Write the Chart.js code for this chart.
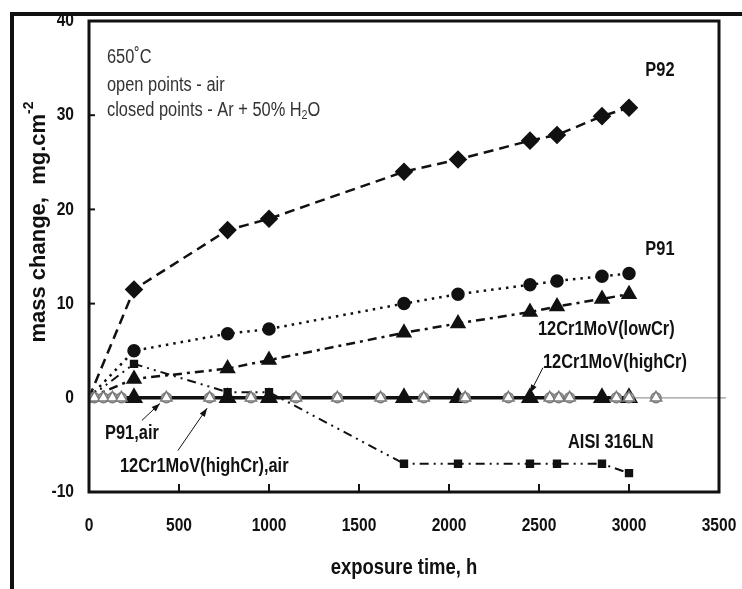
<!DOCTYPE html>
<html>
<head>
<meta charset="utf-8">
<script src="https://cdn.jsdelivr.net/npm/chart.js@4.4.1/dist/chart.umd.min.js"></script>
<style>
html, body { margin: 0; padding: 0; background: #fff; }
#wrap { width: 742px; height: 589px; }
</style>
</head>
<body>
<div id="wrap"><canvas id="chart"></canvas></div>
<script>
// exposure times (h) for the Ar + 50% H2O runs
const hoursSteam = [0, 250, 770, 1000, 1750, 2050, 2450, 2600, 2850, 3000];
const p92 = [0, 11.5, 17.8, 19.0, 24.0, 25.3, 27.3, 27.9, 29.9, 30.8];
const p91 = [0, 5.0, 6.8, 7.3, 10.0, 11.0, 12.0, 12.4, 12.9, 13.2];
const lowCr = [0, 2.0, 3.1, 4.0, 6.9, 7.9, 9.1, 9.7, 10.5, 11.0];
const aisi316 = [0, 3.6, 0.6, 0.6, -7.0, -7.0, -7.0, -7.0, -7.0, -8.0];

const hoursHighCr = [0, 250, 770, 1000, 1750, 2050, 2450, 2850, 3000];
const highCr = [0, 0, 0, 0, 0, 0, 0, 0, 0];

// air runs (open points)
const hoursAir = [0, 30, 80, 130, 180, 430, 670, 900, 1150, 1380, 1620, 1860, 2090, 2330, 2560, 2610, 2670, 2930, 3000, 3150];
const p91Air = [0, 0, 0, 0, 0, 0, 0, 0, 0, 0, 0, 0, 0, 0, 0, 0, 0, 0, 0, 0];
const highCrAir = [0, 0, 0, 0, 0, 0, 0, 0, 0, 0, 0, 0, 0, 0, 0, 0, 0, 0, 0, 0];

const xTicks = [0, 500, 1000, 1500, 2000, 2500, 3000, 3500];
const yTicks = [-10, 0, 10, 20, 30, 40];

const SANS = '"Liberation Sans", Arial, sans-serif';
const NARROW_X = 0.82; // squeeze to look like Arial Narrow

function pts(xs, ys) {
    return xs.map((x, i) => ({ x: x, y: ys[i] }));
}
// no marker on the origin point the lines start from
function radii(n, r) {
    const out = [];
    for (let i = 0; i < n; i++) out.push(i === 0 ? 0 : r);
    return out;
}

// text labels, anchored in data units
const notes = [
    { text: 'P92', x: 3172, y: 34.7, align: 'center', bold: true },
    { text: 'P91', x: 3172, y: 15.7, align: 'center', bold: true },
    { text: '12Cr1MoV(lowCr)', x: 2494, y: 7.2, align: 'left', bold: true },
    { text: '12Cr1MoV(highCr)', x: 2522, y: 3.7, align: 'left', bold: true },
    { text: 'AISI 316LN', x: 2661, y: -4.7, align: 'left', bold: true },
    { text: 'P91,air', x: 89, y: -3.8, align: 'left', bold: true },
    { text: '12Cr1MoV(highCr),air', x: 172, y: -7.3, align: 'left', bold: true },
    { text: '650˚C', x: 100, y: 36.1, align: 'left', bold: false },
    { text: 'open points - air', x: 100, y: 33.2, align: 'left', bold: false }
];
const arrows = [
    { from: [2522, 3.2], to: [2450, 0.5] },
    { from: [294, -2.4], to: [394, -0.6] },
    { from: [494, -5.6], to: [656, -1.1] }
];

function squeezed(ctx, s, x, y, font, align) {
    ctx.save();
    ctx.font = font;
    ctx.translate(x, y);
    ctx.scale(NARROW_X, 1);
    ctx.textAlign = align;
    ctx.fillText(s, 0, 0);
    ctx.restore();
}

const decor = {
    id: 'decor',
    beforeDatasetsDraw(chart) {
        const { ctx, scales: { y }, chartArea: a } = chart;
        const y0 = y.getPixelForValue(0);
        ctx.save();
        ctx.strokeStyle = '#9a9a9a';
        ctx.lineWidth = 1.3;
        ctx.beginPath();
        ctx.moveTo(a.left, y0);
        ctx.lineTo(a.right + 7, y0);
        ctx.stroke();
        ctx.restore();
    },
    afterDraw(chart) {
        const { ctx, scales: { x, y }, chartArea: a } = chart;
        ctx.save();
        ctx.strokeStyle = '#111';
        ctx.fillStyle = '#111';

        // plot frame
        ctx.lineWidth = 3;
        ctx.strokeRect(a.left, a.top, a.right - a.left, a.bottom - a.top);

        // inward tick marks
        ctx.lineWidth = 2;
        xTicks.forEach(v => {
            if (v <= 0 || v >= 3500) return;
            const px = x.getPixelForValue(v);
            ctx.beginPath(); ctx.moveTo(px, a.bottom); ctx.lineTo(px, a.bottom - 8); ctx.stroke();
        });
        yTicks.forEach(v => {
            if (v <= 0 || v >= 40) return;
            const py = y.getPixelForValue(v);
            ctx.beginPath(); ctx.moveTo(a.left, py); ctx.lineTo(a.left + 6, py); ctx.stroke();
        });

        // tick labels
        ctx.textBaseline = 'middle';
        const tickFont = 'bold 19px ' + SANS;
        xTicks.forEach(v => squeezed(ctx, String(v), x.getPixelForValue(v), 526, tickFont, 'center'));
        yTicks.forEach(v => squeezed(ctx, String(v), a.left - 15, y.getPixelForValue(v), tickFont, 'right'));

        // outer frame
        ctx.lineWidth = 4;
        ctx.beginPath();
        ctx.moveTo(742, 14); ctx.lineTo(12, 14); ctx.lineTo(12, 589);
        ctx.stroke();

        // labels
        notes.forEach(n => {
            ctx.fillStyle = n.bold ? '#111' : '#333';
            squeezed(ctx, n.text, x.getPixelForValue(n.x), y.getPixelForValue(n.y),
                (n.bold ? 'bold ' : '') + '20px ' + SANS, n.align);
        });
        // line with subscript
        ctx.fillStyle = '#333';
        let lx = x.getPixelForValue(100);
        const ly = y.getPixelForValue(30.5);
        const main = 'closed points - Ar + 50% H';
        const f20 = '20px ' + SANS, f13 = '13px ' + SANS;
        squeezed(ctx, main, lx, ly, f20, 'left');
        ctx.font = f20; lx += ctx.measureText(main).width * NARROW_X;
        squeezed(ctx, '2', lx, ly + 5, f13, 'left');
        ctx.font = f13; lx += ctx.measureText('2').width * NARROW_X;
        squeezed(ctx, 'O', lx, ly, f20, 'left');
        ctx.fillStyle = '#111';

        // arrows
        ctx.lineWidth = 1;
        arrows.forEach(r => {
            const x1 = x.getPixelForValue(r.from[0]), y1 = y.getPixelForValue(r.from[1]);
            const x2 = x.getPixelForValue(r.to[0]), y2 = y.getPixelForValue(r.to[1]);
            const ang = Math.atan2(y2 - y1, x2 - x1);
            ctx.beginPath(); ctx.moveTo(x1, y1); ctx.lineTo(x2, y2); ctx.stroke();
            ctx.beginPath();
            ctx.moveTo(x2, y2);
            ctx.lineTo(x2 - 9 * Math.cos(ang - 0.35), y2 - 9 * Math.sin(ang - 0.35));
            ctx.lineTo(x2 - 9 * Math.cos(ang + 0.35), y2 - 9 * Math.sin(ang + 0.35));
            ctx.closePath(); ctx.fill();
        });

        // axis titles
        squeezed(ctx, 'exposure time, h', (a.left + a.right) / 2, 568, 'bold 22.5px ' + SANS, 'center');

        ctx.translate(39, 222);
        ctx.rotate(-Math.PI / 2);
        ctx.font = 'bold 22px ' + SANS;
        const t1 = 'mass change,  mg.cm';
        const w1 = ctx.measureText(t1).width;
        ctx.font = 'bold 14px ' + SANS;
        const w2 = ctx.measureText('-2').width;
        ctx.textAlign = 'left';
        ctx.font = 'bold 22px ' + SANS;
        ctx.fillText(t1, -(w1 + w2) / 2, 0);
        ctx.font = 'bold 14px ' + SANS;
        ctx.fillText('-2', -(w1 + w2) / 2 + w1, -10);
        ctx.restore();
    }
};

const openStyle = {
    showLine: false,
    borderColor: '#7a7a7a',
    backgroundColor: '#ffffff',
    borderWidth: 1.5
};

new Chart(document.getElementById('chart'), {
    type: 'scatter',
    data: {
        datasets: [
            Object.assign({ label: '12Cr1MoV(highCr), air', data: pts(hoursAir, highCrAir), pointStyle: 'triangle', pointRadius: 6.5 }, openStyle),
            Object.assign({ label: 'P91, air', data: pts(hoursAir, p91Air), pointStyle: 'circle', pointRadius: 5 }, openStyle),
            {
                label: '12Cr1MoV(highCr)',
                data: pts(hoursHighCr, highCr),
                showLine: true,
                borderColor: '#111', backgroundColor: '#111',
                borderWidth: 3.5,
                pointStyle: 'triangle', pointRadius: radii(hoursHighCr.length, 7)
            },
            {
                label: 'AISI 316LN',
                data: pts(hoursSteam, aisi316),
                showLine: true,
                borderColor: '#111', backgroundColor: '#111',
                borderWidth: 2, borderDash: [9, 5, 2, 5, 2, 5],
                pointStyle: 'rect', pointRadius: radii(hoursSteam.length, 4.5)
            },
            {
                label: '12Cr1MoV(lowCr)',
                data: pts(hoursSteam, lowCr),
                showLine: true,
                borderColor: '#111', backgroundColor: '#111',
                borderWidth: 2.5, borderDash: [9, 5, 3, 5],
                pointStyle: 'triangle', pointRadius: radii(hoursSteam.length, 7)
            },
            {
                label: 'P91',
                data: pts(hoursSteam, p91),
                showLine: true,
                borderColor: '#111', backgroundColor: '#111',
                borderWidth: 2.5, borderDash: [2.5, 5],
                pointStyle: 'circle', pointRadius: radii(hoursSteam.length, 5.5)
            },
            {
                label: 'P92',
                data: pts(hoursSteam, p92),
                showLine: true,
                borderColor: '#111', backgroundColor: '#111',
                borderWidth: 2.5, borderDash: [10, 6],
                pointStyle: 'rectRot', pointRadius: radii(hoursSteam.length, 7.5)
            }
        ]
    },
    options: {
        responsive: true,
        maintainAspectRatio: false,
        animation: false,
        layout: { padding: { left: 0, right: 23, top: 21, bottom: 0 } },
        plugins: {
            legend: { display: false },
            tooltip: { enabled: false }
        },
        scales: {
            x: {
                type: 'linear',
                min: 0, max: 3500,
                afterFit: s => { s.height = 97; },
                grid: { display: false, drawTicks: false },
                border: { display: false },
                ticks: { display: false }
            },
            y: {
                type: 'linear',
                min: -10, max: 40,
                afterFit: s => { s.width = 89; },
                grid: { display: false, drawTicks: false },
                border: { display: false },
                ticks: { display: false }
            }
        }
    },
    plugins: [decor]
});
</script>
</body>
</html>
